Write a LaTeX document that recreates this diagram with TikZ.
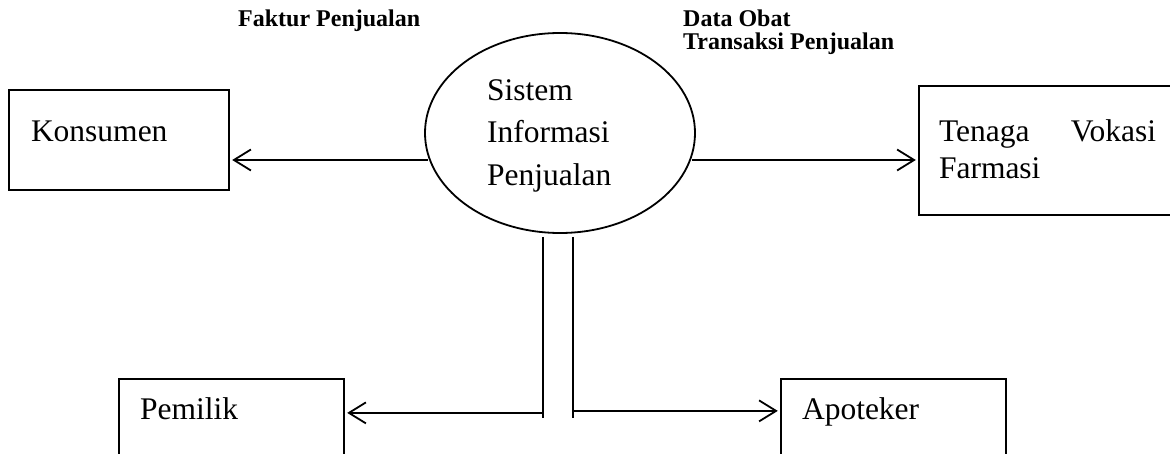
\documentclass[tikz,border=0pt]{standalone}
\usepackage{fontspec}
\setmainfont{Liberation Serif}
\usetikzlibrary{arrows.meta,shapes.geometric,calc}

\tikzset{
  entity/.style={draw, rectangle, line width=2.4pt, inner sep=0pt},
  process/.style={draw, ellipse, line width=1.8pt, inner sep=0pt,
    minimum width=270pt, minimum height=200pt},
  lbl/.style={inner sep=0pt, font=\fontsize{31.5}{42.5}\selectfont},
  flowlbl/.style={inner sep=0pt, font=\bfseries\fontsize{24}{23.5}\selectfont},
  wire/.style={line width=1.8pt},
  conn/.style={wire, -{Straight Barb[length=17pt,width=21pt]}, shorten >=2pt},
}

\begin{document}
\begin{tikzpicture}[x=1pt,y=-1pt]
\useasboundingbox (0,0) rectangle (1170,454);
\clip (0,0) rectangle (1170,454);

% external entities
\node[entity, minimum width=220pt, minimum height=100pt] (kons) at (119,140) {};
\node[entity, minimum width=271pt, minimum height=129pt] (tvf) at (1054.5,150.5) {};
\node[entity, minimum width=225pt, minimum height=100pt] (pem) at (231.5,429) {};
\node[entity, minimum width=225pt, minimum height=100pt] (apo) at (893.5,429) {};

\node[lbl, anchor=base west] (konsT) at ($(kons.north west)+(23,53)$) {Konsumen};
\node[lbl, anchor=base west] (tvfT1) at ($(tvf.north west)+(21,57)$) {\hbox to 217pt{Tenaga\hfill Vokasi}};
\node[lbl, anchor=base west] (tvfT2) at ($(tvf.north west)+(21,94)$) {Farmasi};
\node[lbl, anchor=base west] (pemT) at ($(pem.north west)+(22,42)$) {Pemilik};
\node[lbl, anchor=base west] (apoT) at ($(apo.north west)+(22,42)$) {Apoteker};

% process
\node[process] (ell) at (560,133) {};
\node[lbl, anchor=north west, align=left] (ellT) at (487,79) {Sistem\\Informasi\\Penjualan};

% data flow labels
\node[flowlbl, anchor=base west] (fp) at (238,27) {Faktur Penjualan};
\node[flowlbl, anchor=base west] (dob) at (683,27) {Data Obat};
\node[flowlbl, anchor=base west] (tp) at (683,50) {Transaksi Penjualan};

% flows to the side entities
\coordinate (el) at ($(ell.west)+(4,27)$);
\coordinate (er) at ($(ell.east)+(-4,27)$);
\draw[conn] (el) -- (el -| kons.east);
\draw[conn] (er) -- (er -| tvf.west);

% twin flows down to the owner and pharmacist
\coordinate (dl) at ($(ell.south)+(-17,3)$);
\coordinate (dr) at ($(ell.south)+(13,3)$);
\draw[wire] (dl) -- ++(0,181);
\draw[wire] (dr) -- ++(0,181);
\coordinate (dlb) at ($(dl)+(0,176)$);
\coordinate (drb) at ($(dr)+(0,174)$);
\draw[conn] (dlb) -- (dlb -| pem.east);
\draw[conn] (drb) -- (drb -| apo.west);
\end{tikzpicture}
\end{document}
